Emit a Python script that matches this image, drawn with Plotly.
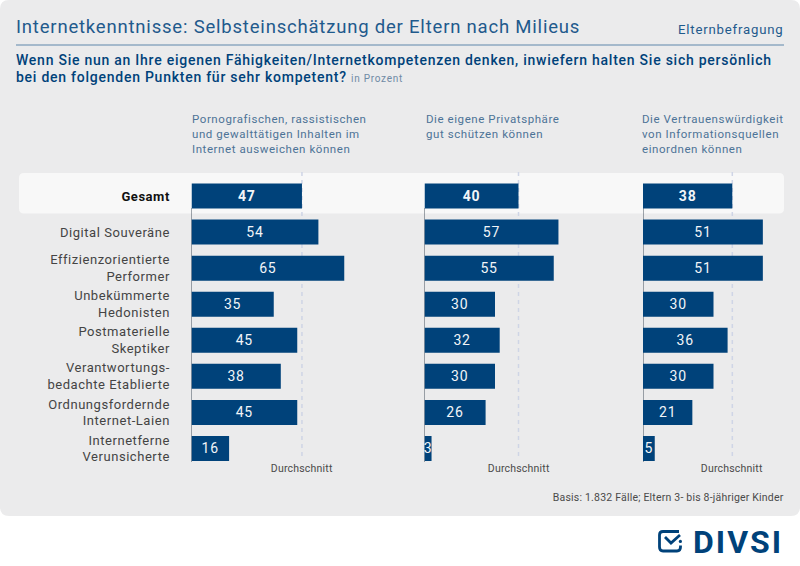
import plotly.graph_objects as go

categories = ["<span style='color:#111'><b>Gesamt</b></span>", "Digital Souveräne", "Effizienzorientierte<br>Performer",
              "Unbekümmerte<br>Hedonisten", "Postmaterielle<br>Skeptiker",
              "Verantwortungs-<br>bedachte Etablierte", "Ordnungsfordernde<br>Internet-Laien",
              "Internetferne<br>Verunsicherte"]
porn = [47, 54, 65, 35, 45, 38, 45, 16]
privacy = [40, 57, 55, 30, 32, 30, 26, 3]
sources = [38, 51, 51, 30, 36, 30, 21, 5]
series = [porn, privacy, sources]
heads = ["Pornografischen, rassistischen<br>und gewalttätigen Inhalten im<br>Internet ausweichen können",
         "Die eigene Privatsphäre<br>gut schützen können",
         "Die Vertrauenswürdigkeit<br>von Informationsquellen<br>einordnen können"]

W, H = 800, 566
FONT = "Roboto"
NAVY = "#00427a"
BLUE = "#1f5a8c"
x0s = [191.5, 424.5, 643]
PXU = 2.35
XMAX = 66
HDX = [192, 426, 641.5]
ROW = 36.07

def px(v): return v / W
def py(v): return 1 - v / H

def rounded_path(x0, y0, x1, y1, r):
    p = lambda x, y: f"{x/W:.5f},{1-y/H:.5f}"
    return (f"M{p(x0+r,y0)} L{p(x1-r,y0)} Q{p(x1,y0)} {p(x1,y0+r)} L{p(x1,y1-r)} Q{p(x1,y1)} {p(x1-r,y1)} "
            f"L{p(x0+r,y1)} Q{p(x0,y1)} {p(x0,y1-r)} L{p(x0,y0+r)} Q{p(x0,y0)} {p(x0+r,y0)} Z")

fig = go.Figure()
shapes = [
    dict(type="path", xref="paper", yref="paper", path=rounded_path(0, 0, 800, 516, 9),
         fillcolor="#ebebec", line_width=0, layer="below"),
    dict(type="path", xref="paper", yref="paper", path=rounded_path(19, 173, 784, 213.5, 5),
         fillcolor="#f8f8f8", line_width=0, layer="below"),
    dict(type="line", xref="paper", yref="paper", x0=px(16), x1=px(784), y0=py(45), y1=py(45),
         line=dict(color="#5f87ab", width=1), layer="below"),
]
for i, vals in enumerate(series):
    ax = "" if i == 0 else str(i + 1)
    text = [f"<b>{v}</b>" if j == 0 else str(v) for j, v in enumerate(vals)]
    fig.add_trace(go.Bar(y=categories, x=vals, orientation="h", marker=dict(color=NAVY, line_width=0),
                         width=25 / ROW, text=text, textposition="inside", insidetextanchor="middle",
                         constraintext="none", textangle=0, cliponaxis=False,
                         textfont=dict(family=FONT, size=14, color="#f2f5f8"),
                         xaxis="x" + ax, yaxis="y" + ax, hoverinfo="skip", showlegend=False))
    shapes.append(dict(type="line", xref="x" + ax, yref="paper", x0=vals[0], x1=vals[0], y0=py(172), y1=py(460),
                       line=dict(color="#cfd5e6", width=1.5, dash="4px,4px"), layer="below"))
    shapes.append(dict(type="line", xref="x" + ax, yref="paper", x0=0, x1=0, y0=py(208), y1=py(462),
                       line=dict(color="#44505c", width=1), layer="below"))

layout = dict(width=W, height=H, margin=dict(l=0, r=0, t=0, b=0), paper_bgcolor="white", plot_bgcolor="rgba(0,0,0,0)",
              bargap=0.3, shapes=shapes, autosize=False)
ydom = [py(196 + ROW * 7.5), py(196 - ROW * 0.5)]
for i in range(3):
    ax = "" if i == 0 else str(i + 1)
    layout["xaxis" + ax] = dict(domain=[px(x0s[i]), px(x0s[i] + PXU * XMAX)],
                                range=[0, XMAX], visible=False, anchor="y" + ax, fixedrange=True)
    yd = dict(domain=ydom, range=[7.5, -0.5], type="category", categoryorder="array", categoryarray=categories,
              anchor="x" + ax, showgrid=False, zeroline=False, showline=False, fixedrange=True)
    if i == 0:
        yd.update(ticks="outside", ticklen=18, tickcolor="rgba(0,0,0,0)", tickwidth=1,
                  tickfont=dict(family=FONT, size=13, color="#444444"))
    else:
        yd.update(showticklabels=False, ticks="")
    layout["yaxis" + ax] = yd

def note(x, y, t, size, color, anchor="left", yanchor="middle", weight=None):
    font = dict(family=FONT, size=size, color=color)
    if weight:
        font["weight"] = weight
    return dict(xref="paper", yref="paper", x=px(x), y=py(y), text=t, showarrow=False,
                xanchor=anchor, yanchor=yanchor, align=anchor, font=font, borderpad=0, borderwidth=0)

ann = [
    note(15.5, 27, "Internetkenntnisse: Selbsteinschätzung der Eltern nach Milieus", 18.5, BLUE),
    note(784, 29, "Elternbefragung", 13.2, BLUE, "right"),
    note(15.5, 60, "Wenn Sie nun an Ihre eigenen Fähigkeiten/Internetkompetenzen denken, inwiefern halten Sie sich persönlich", 14, NAVY, weight=500),
    note(15.5, 77.5, "bei den folgenden Punkten für sehr kompetent? <span style='font-size:10px;color:#6f8aa5;font-weight:400'>in Prozent</span>", 14, NAVY, weight=500),
    note(784, 497, "Basis: 1.832 Fälle; Eltern 3- bis 8-jähriger Kinder", 10.5, "#4a4a4a", "right"),
    note(783, 541.5, "<b>DIVSI</b>", 32, NAVY, "right"),
]
for i in range(3):
    ann.append(note(HDX[i], 112, heads[i], 11.5, "#4d7397", "left", "top"))
    ann.append(note(x0s[i] + PXU * series[i][0], 468, "Durchschnitt", 10.5, "#4a4a4a", "center"))
layout["annotations"] = ann

p = lambda x, y: f"{x/W:.5f},{1-y/H:.5f}"
icon = (f"M{p(679,531.5)} L{p(663,531.5)} Q{p(659.5,531.5)} {p(659.5,535)} L{p(659.5,547)} Q{p(659.5,551)} {p(663,551)} "
        f"L{p(677,551)} Q{p(680.5,551)} {p(680.5,547)} L{p(680.5,545.5)}")
check = f"M{p(665,537)} L{p(671,543)} L{p(680,535)}"
shapes.append(dict(type="path", xref="paper", yref="paper", path=icon, line=dict(color=NAVY, width=2.8)))
shapes.append(dict(type="path", xref="paper", yref="paper", path=check, line=dict(color=NAVY, width=2.8)))
shapes.append(dict(type="circle", xref="paper", yref="paper", x0=px(678.8), x1=px(682), y0=py(543), y1=py(539.8),
                   fillcolor=NAVY, line_width=0))

fig.update_layout(**layout)

post = """
document.body.style.margin='0';
var sp={'18.5':0.8,'14':0.75,'13':0.55,'13.2':0.8,'11.5':0.57,'10.5':0.2,'32':2};
document.querySelectorAll('.main-svg text').forEach(function(t){
  var s=parseFloat(t.style.fontSize);
  if(sp[s]!==undefined){t.style.letterSpacing=sp[s]+'px';}
});
"""
fig.write_html("out.html", post_script=post, config={"displayModeBar": False})
